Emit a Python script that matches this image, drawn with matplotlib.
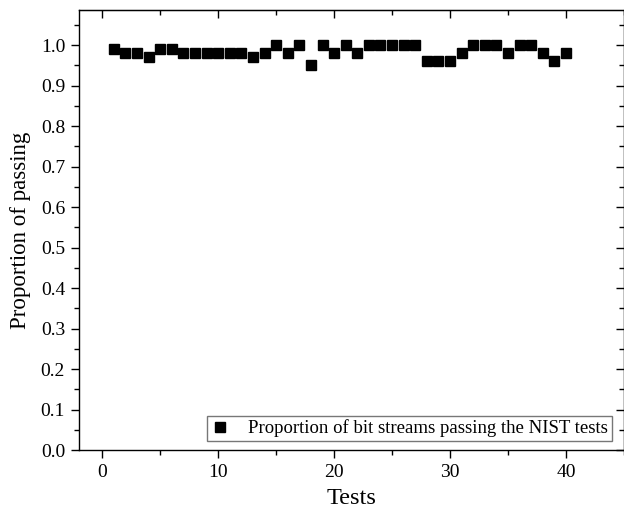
import matplotlib
matplotlib.use("Agg")
import matplotlib.pyplot as plt
from matplotlib.ticker import MultipleLocator, FormatStrFormatter

tests = list(range(1, 41))
proportion = [0.99, 0.98, 0.98, 0.97, 0.99, 0.99, 0.98, 0.98, 0.98, 0.98,
              0.98, 0.98, 0.97, 0.98, 1.00, 0.98, 1.00, 0.95, 1.00, 0.98,
              1.00, 0.98, 1.00, 1.00, 1.00, 1.00, 1.00, 0.96, 0.96, 0.96,
              0.98, 1.00, 1.00, 1.00, 0.98, 1.00, 1.00, 0.98, 0.96, 0.98]
label = "Proportion of bit streams passing the NIST tests"

plt.rcParams['font.family'] = ['Liberation Serif', 'DejaVu Serif']

fig = plt.figure(figsize=(6.24, 5.11), dpi=100)
ax = fig.add_axes([79/624, 61/511, 545/624, 440/511])

ax.plot(tests, proportion, linestyle='none', marker='s', markersize=7.3,
        color='black', label=label)

ax.set_xlim(-2, 45)
ax.set_ylim(0, 1.087)
ax.xaxis.set_major_locator(MultipleLocator(10))
ax.xaxis.set_minor_locator(MultipleLocator(5))
ax.yaxis.set_major_locator(MultipleLocator(0.1))
ax.yaxis.set_minor_locator(MultipleLocator(0.05))
ax.yaxis.set_major_formatter(FormatStrFormatter('%.1f'))

ax.tick_params(axis='both', which='major', direction='out', length=6, width=1,
               labelsize=14, pad=4)
ax.tick_params(axis='both', which='minor', direction='out', length=3.5, width=1)
sec_x = ax.secondary_xaxis('top')
sec_x.xaxis.set_major_locator(MultipleLocator(10))
sec_x.xaxis.set_minor_locator(MultipleLocator(5))
sec_x.tick_params(which='major', direction='in', length=6, width=1, labeltop=False)
sec_x.tick_params(which='minor', direction='in', length=3.5, width=1)
sec_y = ax.secondary_yaxis('right')
sec_y.yaxis.set_major_locator(MultipleLocator(0.1))
sec_y.yaxis.set_minor_locator(MultipleLocator(0.05))
sec_y.tick_params(which='major', direction='in', length=6, width=1, labelright=False)
sec_y.tick_params(which='minor', direction='in', length=3.5, width=1)

for s in ax.spines.values():
    s.set_linewidth(1)

ax.set_xlabel("Tests", fontsize=17.5, labelpad=5)
ax.set_ylabel("Proportion of passing", fontsize=16.5, labelpad=7)

leg = ax.legend(loc='lower right', fontsize=13.5, frameon=True, fancybox=False,
                edgecolor='#555555', borderaxespad=0, handlelength=1.0,
                handletextpad=1.0, borderpad=0.2,
                bbox_to_anchor=(612/624, (511-441)/511),
                bbox_transform=fig.transFigure)
leg.get_frame().set_linewidth(1)

fig.savefig("out.png", dpi=100)
